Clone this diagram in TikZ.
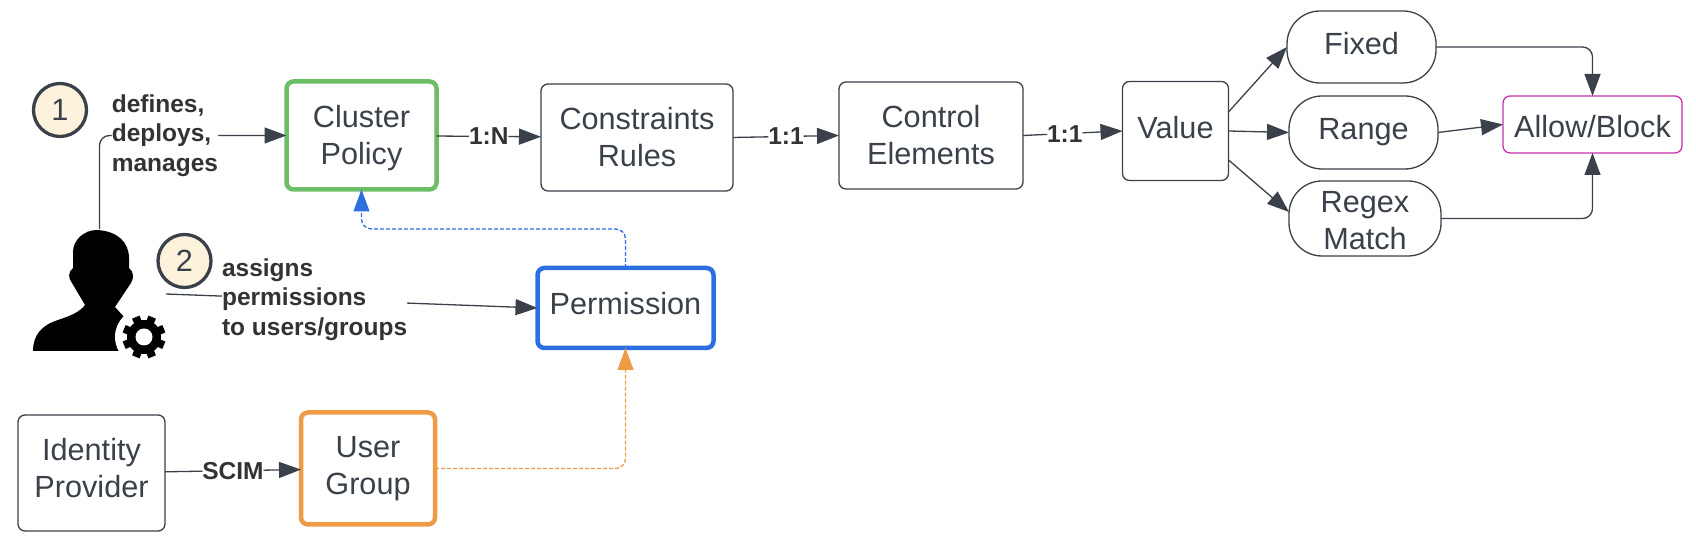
\documentclass[tikz,border=0pt]{standalone}
\usepackage{fontspec}
\setmainfont{Liberation Sans}
\usetikzlibrary{positioning,arrows.meta}
\definecolor{ink}{HTML}{3A414A}
\definecolor{labelink}{HTML}{333333}
\definecolor{policygreen}{HTML}{6DBF67}
\definecolor{permblue}{HTML}{2D6FE0}
\definecolor{grouporange}{HTML}{EF9A45}
\definecolor{resultpink}{HTML}{C92EAE}
\definecolor{stepfill}{HTML}{FDF3DD}

\begin{document}
\begin{tikzpicture}[
x=0.1mm,
y=-0.1mm,
    box/.style={
        rectangle,
        draw=ink,
        line width=0.13mm,
        rounded corners=0.7mm,
        text=ink,
        align=center,
        inner sep=0pt,
        outer sep=0pt,
        font=\fontsize{8.72}{10.5}\selectfont
    },
    pill/.style={box, rounded corners=3.3mm},
    heavy/.style={box, line width=0.45mm},
    stepmark/.style={
        circle,
        draw=ink,
        fill=stepfill,
        line width=0.33mm,
        minimum size=5.3mm,
        inner sep=0pt,
        text=ink,
        font=\fontsize{8.72}{10.5}\selectfont
    },
    link/.style={
        draw=ink,
        line width=0.13mm,
        rounded corners=1mm,
        -{Triangle[length=2.2mm,width=1.6mm]}
    },
    tag/.style={
        fill=white,
        inner sep=0pt,
        align=left,
        text=labelink,
        font=\fontsize{6.97}{8.35}\selectfont\bfseries
    }
]
\useasboundingbox (0,0) rectangle (1696,552);

\node[heavy, draw=policygreen, minimum width=15mm, minimum height=10.8mm, text height=6.35mm] (cluster) at (361.5,135.5) {Cluster\\Policy};
\node[box, minimum width=19.2mm, minimum height=10.7mm] (constraints) at (637,137.5) {Constraints\\Rules};
\node[box, minimum width=18.4mm, minimum height=10.7mm] (control) at (931,135.5) {Control\\Elements};
\node[box, minimum width=10.6mm, minimum height=9.9mm, text depth=0.8mm] (value) at (1175.5,131) {Value};
\node[pill, minimum width=14.9mm, minimum height=7.2mm, text depth=0.8mm] (fixed) at (1361.5,47) {Fixed};
\node[pill, minimum width=14.9mm, minimum height=7.3mm, text depth=0.8mm] (range) at (1363.5,132.5) {Range};
\node[pill, minimum width=15.2mm, minimum height=7.5mm, text height=6.15mm] (regex) at (1365,218.5) {Regex\\Match};
\node[box, draw=resultpink, minimum width=17.9mm, minimum height=5.7mm, text height=2.55mm] (allow) at (1592.5,124.5) {Allow/Block};
\node[heavy, draw=permblue, minimum width=17.6mm, minimum height=8mm, text depth=1mm] (permission) at (625.5,308) {Permission};
\node[heavy, draw=grouporange, minimum width=13.4mm, minimum height=11.2mm] (group) at (368,468.5) {User\\Group};
\node[box, minimum width=14.7mm, minimum height=11.6mm, text depth=1mm] (identity) at (91.5,473) {Identity\\Provider};
\node[stepmark] (stepone) at (60,110) {1};
\node[stepmark] (steptwo) at (184.5,261) {2};
\node[minimum width=13.3mm, minimum height=13mm, inner sep=0pt, outer sep=0pt] (admin) at (99.5,294) {};

% The person with the gear
\fill[black] (33,351) .. controls (33,335) and (42,325) .. (58,320)
    .. controls (70,316) and (80,312) .. (85,305) -- (72,283)
    .. controls (68,278) and (68,272) .. (73,268) -- (73,252)
    .. controls (73,240) and (84,230) .. (97,230)
    .. controls (117,231) and (129,242) .. (129,258) -- (129,268)
    .. controls (134,272) and (134,278) .. (131,283) -- (115,307)
    -- (125,318) -- (125,351) -- cycle;
\fill[white] (144,337) circle (2.9mm);
\fill[black] (144,337) circle (1.7mm);
\foreach \angle in {0,45,...,315}
    \fill[black, rotate around={\angle+22.5:(144,337)}] (140,315.5) rectangle (148,325);
\fill[white] (144,337) circle (0.85mm);

% The row along the top
\draw[link] (admin.north) |- node[tag, pos=0.675] {defines,\\deploys,\\manages} (cluster.west);
\draw[link] (cluster) -- node[tag] {1:N} (constraints);
\draw[link] (constraints.east) -- node[tag] {1:1} (control.west);
\draw[link] (control.east) -- node[tag, pos=0.42] {1:1} (value.west);

% The three kinds of value
\draw[link] ([yshift=1.9mm]value.east) -- (fixed.west);
\draw[link] (value.east) -- (range.west);
\draw[link] ([yshift=-2.9mm]value.east) -- ([yshift=0.65mm]regex.west);
\draw[link] (fixed.east) -| (allow.north);
\draw[link] (range.east) -- (allow.west);
\draw[link] (regex.east) -| (allow.south);

% Permissions and groups
\draw[link] (admin.east) -- node[tag, pos=0.4] {assigns\\permissions\\to users/groups} (permission.west);
\draw[link] (identity) -- node[tag] {SCIM} (group);
\draw[link, draw=permblue, dash pattern=on 0.4mm off 0.2mm] (permission.north) -- ++(0,-39) -| (cluster.south);
\draw[link, draw=grouporange, dash pattern=on 0.4mm off 0.2mm] (group.east) -| (permission.south);
\end{tikzpicture}
\end{document}
